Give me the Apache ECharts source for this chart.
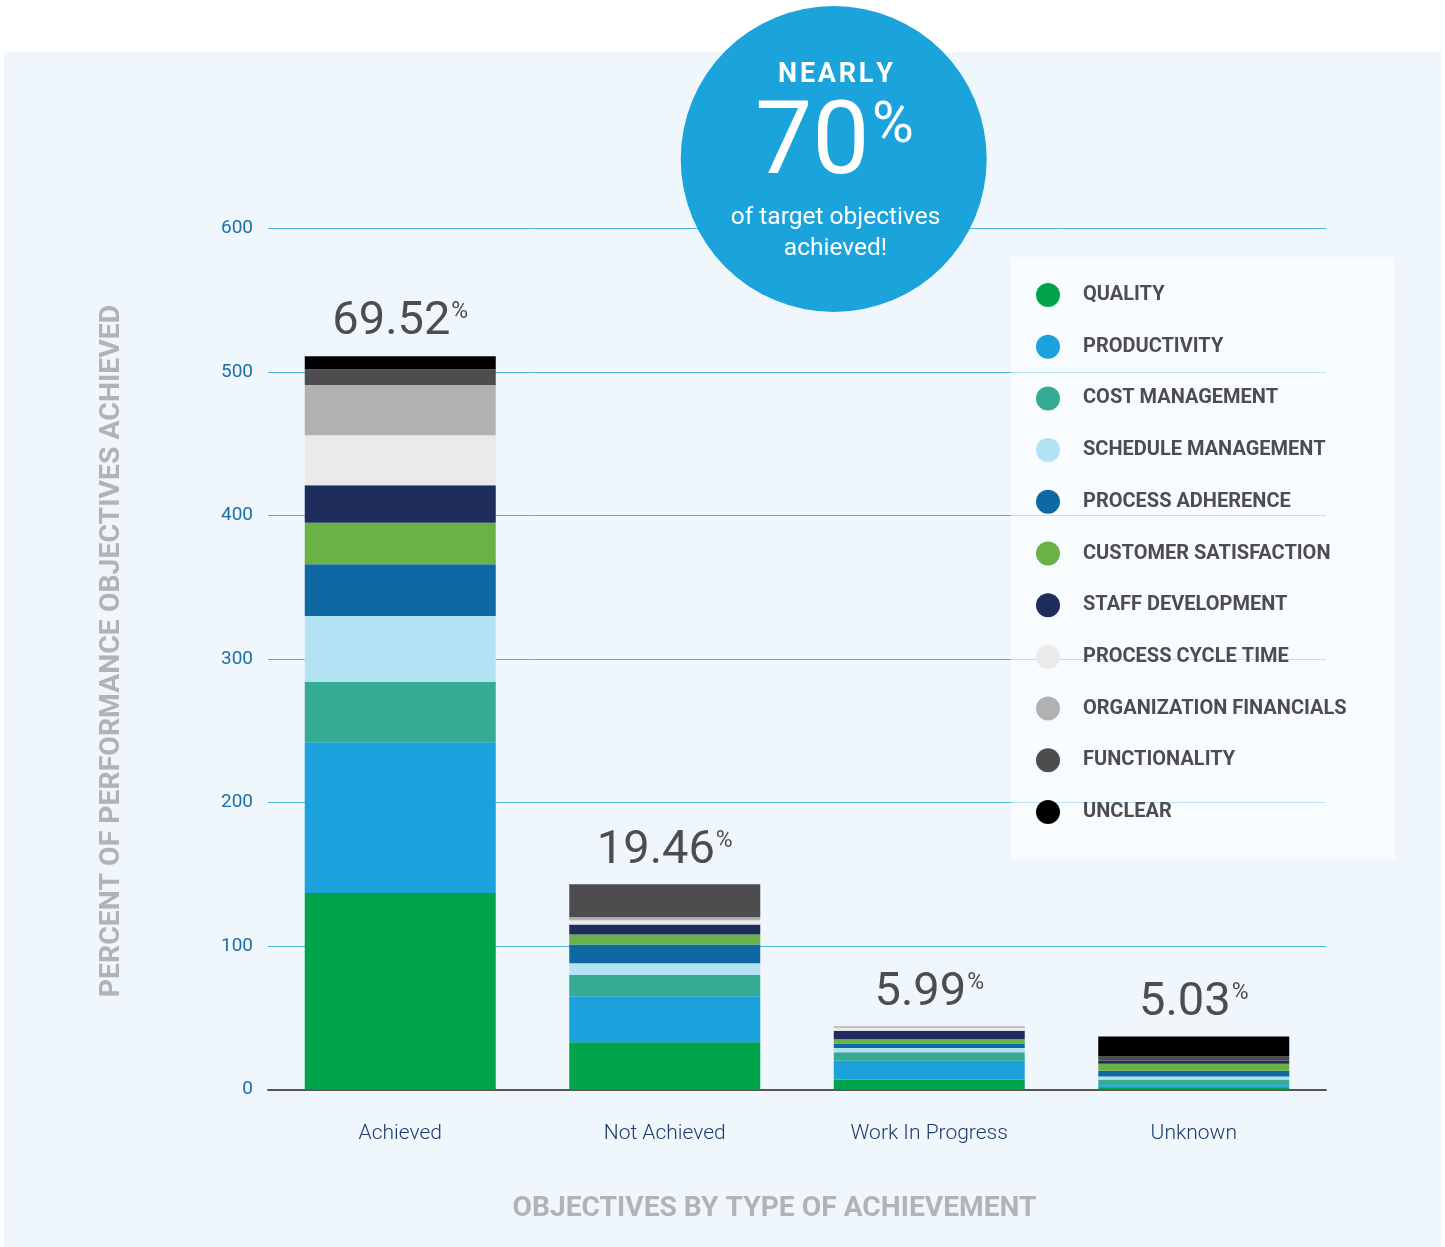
<!DOCTYPE html>
<html>
<head>
<meta charset="utf-8">
<script src="https://cdn.jsdelivr.net/npm/echarts@6/dist/echarts.min.js"></script>
<style>
  html, body { margin: 0; padding: 0; background: #ffffff; }
  #chart { width: 1445px; height: 1247px; }
</style>
</head>
<body>
<div id="chart"></div>
<script>
// Achievement groups along the x axis
const categories = ['Achieved', 'Not Achieved', 'Work In Progress', 'Unknown'];

// Objective types (stack order, bottom to top)
const objectiveTypes = [
  'QUALITY', 'PRODUCTIVITY', 'COST MANAGEMENT', 'SCHEDULE MANAGEMENT',
  'PROCESS ADHERENCE', 'CUSTOMER SATISFACTION', 'STAFF DEVELOPMENT',
  'PROCESS CYCLE TIME', 'ORGANIZATION FINANCIALS', 'FUNCTIONALITY', 'UNCLEAR'
];

// Number of objectives per type, one value per achievement group
const quality               = [137, 33, 7, 1];
const productivity          = [105, 32, 13, 2];
const costManagement        = [42, 15, 6, 4];
const scheduleManagement    = [46, 8, 3, 2];
const processAdherence      = [36, 13, 3, 4];
const customerSatisfaction  = [29, 7, 3, 5];
const staffDevelopment      = [26, 7, 6, 2];
const processCycleTime      = [35, 3, 2, 0];
const organizationFinancials = [35, 2, 1, 0];
const functionality         = [11, 23, 0, 3];
const unclear               = [9, 0, 0, 14];

// Value axis ticks
const valueTicks = [0, 100, 200, 300, 400, 500, 600];

const seriesValues = [
  quality, productivity, costManagement, scheduleManagement, processAdherence,
  customerSatisfaction, staffDevelopment, processCycleTime, organizationFinancials,
  functionality, unclear
];

const typeColors = [
  '#00a54b', '#1ba1dc', '#34ab92', '#b3e2f5', '#1068a2',
  '#6bb246', '#1e2d5b', '#ebe9ea', '#b1b1b1', '#4d4d4f', '#000000'
];

// Group totals and their share of all objectives
const groupTotals = categories.map((_, i) =>
  seriesValues.reduce((sum, arr) => sum + arr[i], 0));
const grandTotal = groupTotals.reduce((a, b) => a + b, 0);

const FONT = 'Roboto, "Noto Sans", sans-serif';

const series = objectiveTypes.map((name, k) => {
  const s = {
    name: name,
    type: 'bar',
    stack: 'objectives',
    barWidth: 191,
    data: seriesValues[k],
    itemStyle: { color: typeColors[k] },
    emphasis: { disabled: true }
  };
  if (k === objectiveTypes.length - 1) {
    // share of all objectives, printed above each stack
    s.label = {
      show: true,
      position: 'top',
      distance: 10,
      formatter: (p) => '{v|' + (groupTotals[p.dataIndex] / grandTotal * 100).toFixed(2) + '}{p|%}',
      rich: {
        v: { fontFamily: FONT, fontSize: 47, lineHeight: 47, color: '#4d4d4f' },
        p: { fontFamily: FONT, fontSize: 23, lineHeight: 23, color: '#4d4d4f', verticalAlign: 'top', padding: [2, 0, 0, 1] }
      }
    };
  }
  return s;
});

const chart = echarts.init(document.getElementById('chart'), null, { renderer: 'canvas' });

chart.setOption({
  backgroundColor: '#eff7fd',
  animation: false,
  textStyle: { fontFamily: FONT },
  grid: { left: 268, right: 119, top: 228.5, bottom: 157.5, containLabel: false },
  legend: {
    orient: 'vertical',
    left: 1036,
    top: 283,
    padding: 0,
    itemWidth: 24,
    itemHeight: 24,
    itemGap: 27.7,
    icon: 'circle',
    selectedMode: false,
    data: objectiveTypes,
    textStyle: {
      fontFamily: FONT, fontSize: 20, fontWeight: 'bold', color: '#4d4d4f',
      padding: [0, 0, 0, 18]
    }
  },
  xAxis: {
    type: 'category',
    data: categories,
    axisLine: { lineStyle: { color: '#555558', width: 2 } },
    axisTick: { show: false },
    axisLabel: { color: '#1f3a6e', fontSize: 21, fontWeight: 300, fontFamily: FONT, margin: 34 },
    splitLine: { show: false }
  },
  yAxis: {
    type: 'value',
    min: valueTicks[0],
    max: valueTicks[valueTicks.length - 1],
    interval: valueTicks[1] - valueTicks[0],
    axisLine: { show: false },
    axisTick: { show: false },
    axisLabel: { color: '#1d6fa5', fontSize: 19, fontFamily: FONT, margin: 15 },
    splitLine: { lineStyle: { color: '#4cb2e2', width: 1 } }
  },
  graphic: [
    // white margins around the panel
    { type: 'rect', shape: { x: 0, y: 0, width: 1445, height: 52 }, style: { fill: '#ffffff' }, silent: true },
    { type: 'rect', shape: { x: 0, y: 0, width: 4, height: 1247 }, style: { fill: '#ffffff' }, silent: true },
    { type: 'rect', shape: { x: 1441, y: 0, width: 4, height: 1247 }, style: { fill: '#ffffff' }, silent: true },
    // legend backdrop
    { type: 'rect', z: 1, shape: { x: 1011, y: 257, width: 384, height: 602 },
      style: { fill: 'rgba(255,255,255,0.62)' }, silent: true },
    // headline badge
    { type: 'circle', z: 10, shape: { cx: 833.7, cy: 159, r: 153 }, style: { fill: '#1ba3dc' }, silent: true },
    { type: 'text', z: 11, x: 835.5, y: 75,
      style: { text: 'N E A R L Y'.replace(/ /g, '\u200A'), fill: '#ffffff', font: 'bold 27px ' + FONT, align: 'center', verticalAlign: 'middle' } },
    { type: 'text', z: 11, x: 755, y: 147,
      style: { text: '70', fill: '#ffffff', font: '102px ' + FONT, align: 'left', verticalAlign: 'middle' } },
    { type: 'text', z: 11, x: 872, y: 128,
      style: { text: '%', fill: '#ffffff', font: '57px ' + FONT, align: 'left', verticalAlign: 'middle' } },
    { type: 'text', z: 11, x: 835.5, y: 217.5,
      style: { text: 'of target objectives', fill: '#ffffff', font: '24.5px ' + FONT, align: 'center', verticalAlign: 'middle' } },
    { type: 'text', z: 11, x: 835.5, y: 248.5,
      style: { text: 'achieved!', fill: '#ffffff', font: '24.5px ' + FONT, align: 'center', verticalAlign: 'middle' } },
    // axis titles
    { type: 'text', z: 11, x: 111.5, y: 651, rotation: Math.PI / 2,
      style: { text: 'PERCENT OF PERFORMANCE OBJECTIVES ACHIEVED', fill: '#b3b3b3', font: 'bold 28.4px ' + FONT,
               align: 'center', verticalAlign: 'middle' } },
    { type: 'text', z: 11, x: 774.5, y: 1208.5,
      style: { text: 'OBJECTIVES BY TYPE OF ACHIEVEMENT', fill: '#b3b3b3', font: 'bold 28.2px ' + FONT,
               align: 'center', verticalAlign: 'middle' } }
  ],
  series: series
});
</script>
</body>
</html>
